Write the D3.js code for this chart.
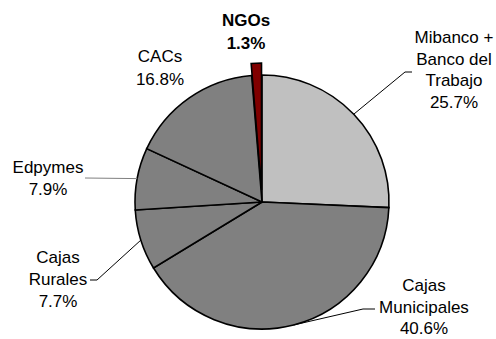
<!DOCTYPE html>
<meta charset="utf-8">
<script src="https://d3js.org/d3.v7.min.js"></script>
<style>
  body { margin: 0; background: #fff; }
  text { font-family: Arial, "Liberation Sans", sans-serif; font-size: 17px; fill: #000; }
  .slice path { stroke: #000; stroke-width: 1.6px; }
  .leader { fill: none; stroke: #000; stroke-width: 1px; }
</style>
<div id="chart"></div>
<script>
  // data
  var categories = ["Mibanco +\nBanco del\nTrabajo", "Cajas\nMunicipales", "Cajas\nRurales", "Edpymes", "CACs", "NGOs"];
  var shares = [25.7, 40.6, 7.7, 7.9, 16.8, 1.3];

  // styling / layout
  var fills = ["#c0c0c0", "#808080", "#808080", "#808080", "#808080", "#800000"];
  var explode = [0, 0, 0, 0, 0, 12];
  var labelPos = [
    { x: 454, y: 43, dy: 21.5, leader: [[412, 72], [405, 72]] },
    { x: 424, y: 291, dy: 21.5, leader: [[375, 309], [363, 309]] },
    { x: 58, y: 263, dy: 22, leader: [[90, 280], [97, 280]] },
    { x: 48, y: 173, dy: 22, leader: [[85, 178]], color: "#808080" },
    { x: 160, y: 62, dy: 23, leader: null },
    { x: 246, y: 26, dy: 23, leader: null, bold: true }
  ];

  var width = 496, height = 339;
  var cx = 262, cy = 202, radius = 127;

  var svg = d3.select("#chart").append("svg")
    .attr("width", width)
    .attr("height", height);

  var pie = d3.pie().sort(null).value(function (d) { return d; });
  var arcs = pie(shares);

  var arc = d3.arc().innerRadius(0).outerRadius(radius);

  function midAngle(d) { return (d.startAngle + d.endAngle) / 2; }

  var g = svg.append("g").attr("class", "slice")
    .attr("transform", "translate(" + cx + "," + cy + ")");

  g.selectAll("path")
    .data(arcs)
    .enter().append("path")
    .attr("d", arc)
    .attr("fill", function (d, i) { return fills[i]; })
    .attr("transform", function (d, i) {
      var a = midAngle(d), off = explode[i];
      return "translate(" + (Math.sin(a) * off) + "," + (-Math.cos(a) * off) + ")";
    });

  // leader lines from the arc edge at the slice's middle to the label
  arcs.forEach(function (d, i) {
    var p = labelPos[i];
    if (!p.leader) return;
    var a = midAngle(d);
    var pts = [[cx + Math.sin(a) * radius, cy - Math.cos(a) * radius]].concat(p.leader.slice().reverse());
    svg.append("path").attr("class", "leader")
      .style("stroke", p.color || null)
      .attr("d", d3.line()(pts));
  });

  // labels
  arcs.forEach(function (d, i) {
    var p = labelPos[i];
    var lines = categories[i].split("\n").concat([shares[i].toFixed(1) + "%"]);
    var t = svg.append("text")
      .attr("text-anchor", "middle")
      .style("font-weight", p.bold ? "bold" : null);
    lines.forEach(function (s, k) {
      t.append("tspan").attr("x", p.x).attr("y", p.y + k * p.dy).text(s);
    });
  });
</script>
